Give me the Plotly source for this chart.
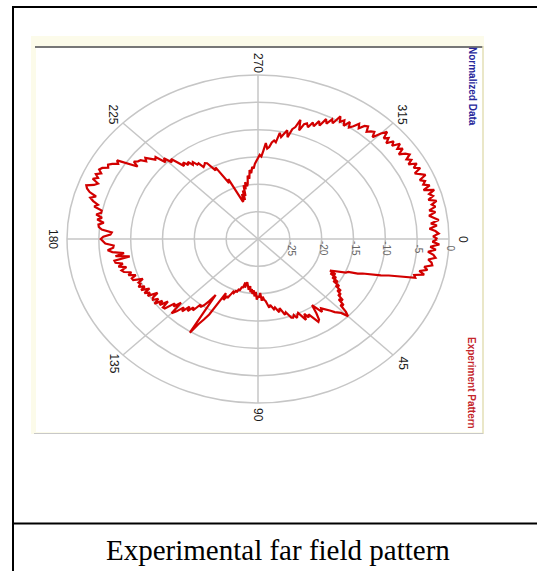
import numpy as np
import plotly.graph_objects as go

W, H = 537, 571

# ---- data -------------------------------------------------------------
# measured far-field gain, normalized (dB), sampled every degree 0..359
angle_deg = list(range(0, 360))
gain_db = [
    -1.8, -2.6, -1.5, -2.9, -2.0, -3.2, -2.3, -1.9, -3.0, -2.4,        # 0
    -2.2, -3.4, -2.8, -4.0, -3.1, -4.6, -4.3, -6.8, -8.4, -9.6,        # 10
    -11.2, -12.4, -13.1, -14.6, -14.9, -15.9, -16.6, -17.3, -16.2, -17.0,  # 20
    -15.8, -16.4, -15.2, -15.9, -14.6, -15.1, -13.9, -14.4, -13.5, -13.8,  # 30
    -12.6, -13.2, -11.9, -12.3, -10.8, -10.0, -11.2, -11.6, -12.0, -12.6,  # 40
    -13.1, -13.4, -13.9, -13.3, -14.4, -15.2, -13.6, -12.4, -12.1, -13.0,  # 50
    -14.1, -13.6, -14.5, -13.4, -14.2, -15.1, -14.8, -14.3, -15.0, -14.6,  # 60
    -14.7, -15.4, -15.9, -15.5, -16.5, -16.9, -16.2, -16.8, -17.2, -16.9,  # 70
    -17.4, -17.8, -17.3, -18.2, -18.6, -18.8, -19.4, -18.7, -20.1, -19.3,  # 80
    -19.6, -18.9, -20.3, -19.5, -20.6, -19.9, -20.8, -20.2, -21.3, -20.6,  # 90
    -21.2, -21.7, -21.9, -20.9, -21.8, -20.7, -20.9, -20.1, -20.4, -19.7,  # 100
    -20.0, -19.4, -19.6, -18.9, -18.2, -18.5, -17.6, -18.9, -16.4, -14.2,  # 110
    -13.0, -11.8, -9.8, -17.8, -16.3, -15.2, -14.6, -15.0, -13.4, -13.9,   # 120
    -12.8, -13.6, -12.2, -12.9, -11.6, -10.8, -13.2, -11.9, -12.4, -10.6,  # 130
    -10.5, -11.8, -10.4, -11.2, -9.9, -10.9, -10.1, -10.3, -11.4, -9.8,    # 140
    -10.4, -9.6, -10.7, -9.4, -10.2, -9.3, -9.8, -9.6, -10.5, -9.0,        # 150
    -8.9, -9.7, -8.6, -9.2, -8.1, -7.8, -8.7, -7.5, -8.3, -7.2,            # 160
    -7.1, -9.6, -7.4, -8.8, -7.0, -6.3, -7.2, -7.3, -6.0, -5.6,            # 170
    -5.3, -5.7, -6.8, -7.0, -5.4, -4.9, -4.8, -5.6, -4.5, -5.2,            # 180
    -4.2, -4.9, -4.9, -3.6, -4.1, -3.2, -2.6, -3.4, -2.2, -1.6,            # 190
    -1.3, -2.4, -2.9, -1.8, -2.5, -1.9, -2.6, -2.0, -2.3, -3.1,            # 200
    -2.8, -3.3, -4.1, -3.6, -5.2, -6.9, -5.9, -6.4, -6.6, -7.4,            # 210
    -6.9, -7.6, -8.3, -8.0, -9.8, -9.1, -10.5, -10.0, -11.3, -12.3,        # 220
    -11.7, -12.6, -12.1, -13.0, -12.6, -13.4, -13.3, -14.3, -14.1, -13.8,  # 230
    -14.0, -15.0, -15.8, -15.3, -16.6, -17.4, -18.8, -18.1, -19.8, -20.4,  # 240
    -21.6, -22.8, -22.5, -21.4, -22.6, -20.8, -21.9, -19.9, -20.7, -19.4,  # 250
    -20.2, -19.7, -18.3, -18.9, -17.3, -17.9, -16.8, -17.1, -16.2, -15.8,  # 260
    -15.2, -14.6, -14.9, -13.8, -12.4, -13.4, -13.1, -12.2, -11.8, -12.1,  # 270
    -10.3, -11.0, -10.4, -9.6, -10.8, -9.2, -8.7, -7.2, -9.1, -7.8,        # 280
    -7.5, -8.1, -7.0, -7.6, -6.4, -7.1, -5.6, -6.3, -5.2, -5.8,            # 290
    -4.1, -5.0, -4.4, -5.3, -4.2, -5.1, -4.5, -3.6, -4.3, -3.4,            # 300
    -3.1, -4.0, -3.5, -3.2, -4.1, -2.7, -1.8, -3.0, -2.4, -3.3,            # 310
    -2.2, -2.9, -1.7, -2.6, -1.9, -3.0, -2.1, -1.6, -2.5, -1.9,            # 320
    -2.7, -1.5, -2.3, -1.4, -2.6, -1.8, -1.2, -2.4, -1.7, -2.2,            # 330
    -1.3, -2.5, -0.9, -1.9, -1.4, -2.3, -1.1, -2.0, -1.5, -2.6,            # 340
    -1.7, -2.8, -2.0, -1.4, -2.7, -1.8, -3.0, -2.1, -1.6, -2.5,            # 350
]

ring_ticks = [-25, -20, -15, -10, -5, 0]
r_floor = -30
spoke_angles = [0, 45, 90, 135, 180, 225, 270, 315]
spoke_labels = ["0", "45", "90", "135", "180", "225", "270", "315"]

# ---- geometry of the panel (pixels) ----------------------------------
CX, CY = 258, 239          # pole of the pattern
SEMI_X, SEMI_Y = 191, 164  # outer ring half-width / half-height
SPAN = 0 - r_floor


def px(x):
    return x / W


def py(y):
    return 1 - y / H


def polar_xy(r_db, ang_deg):
    rho = np.asarray(r_db, float) - r_floor
    t = np.deg2rad(np.asarray(ang_deg, float))
    # 0 deg to the right, angle grows clockwise on screen
    return rho * np.cos(t), -rho * np.sin(t)


fig = go.Figure()

# pattern trace (closed loop)
gx, gy = polar_xy(gain_db + gain_db[:1], angle_deg + angle_deg[:1])
fig.add_trace(go.Scatter(
    x=gx, y=gy, mode="lines",
    line=dict(color="#D20000", width=2.2),
    hoverinfo="skip", showlegend=False,
))

shapes = []

# outer frame of the figure cell and caption divider
shapes += [
    dict(type="line", xref="paper", yref="paper",
         x0=px(13), x1=px(13), y0=py(6), y1=py(571),
         line=dict(color="black", width=2)),
    dict(type="line", xref="paper", yref="paper",
         x0=px(12), x1=px(537), y0=py(7), y1=py(7),
         line=dict(color="black", width=2)),
    dict(type="line", xref="paper", yref="paper",
         x0=px(13), x1=px(537), y0=py(523.5), y1=py(523.5),
         line=dict(color="black", width=2)),
]

# chart panel
shapes += [
    dict(type="rect", xref="paper", yref="paper", layer="below",
         x0=px(31), x1=px(484), y0=py(434), y1=py(36),
         fillcolor="#FCFBEA", line=dict(width=0)),
    dict(type="rect", xref="paper", yref="paper", layer="below",
         x0=px(36), x1=px(482), y0=py(432), y1=py(48),
         fillcolor="#FFFFFF", line=dict(width=0)),
    dict(type="line", xref="paper", yref="paper",
         x0=px(35), x1=px(483), y0=py(47), y1=py(47),
         line=dict(color="#777777", width=2)),
    dict(type="line", xref="paper", yref="paper",
         x0=px(483), x1=px(483), y0=py(46), y1=py(434),
         line=dict(color="#E4E0BC", width=1.5)),
    dict(type="line", xref="paper", yref="paper",
         x0=px(34), x1=px(483), y0=py(433.5), y1=py(433.5),
         line=dict(color="#C8C8C8", width=1)),
]

# grid rings
for t in ring_ticks:
    rho = t - r_floor
    shapes.append(dict(type="circle", xref="x", yref="y", layer="below",
                       x0=-rho, x1=rho, y0=-rho, y1=rho,
                       line=dict(color="#C6C6C6", width=1.5)))
# grid spokes
for a in spoke_angles:
    ex, ey = polar_xy(0, a)
    shapes.append(dict(type="line", xref="x", yref="y", layer="below",
                       x0=0, y0=0, x1=float(ex), y1=float(ey),
                       line=dict(color="#C6C6C6", width=1.5)))

annotations = []

# angle labels, rotated with the chart
for a, lab in zip(spoke_angles, spoke_labels):
    lx, ly = polar_xy(2.2, a)
    annotations.append(dict(
        x=float(lx), y=float(ly), xref="x", yref="y", text=lab,
        showarrow=False, textangle=90, xanchor="center", yanchor="middle",
        font=dict(family="Liberation Sans Narrow, Arial Narrow, Liberation Sans, Arial",
                  size=12, color="#1A1A1A"),
    ))

# ring labels along the 0 deg spoke
for t in ring_ticks:
    rho = t - r_floor
    annotations.append(dict(
        x=rho + 0.2, y=-1.8, xref="x", yref="y", text=str(t),
        showarrow=False, textangle=90, xanchor="center", yanchor="middle",
        font=dict(family="Liberation Sans, Arial", size=10, color="#666666"),
    ))

annotations += [
    dict(x=px(472), y=py(86), xref="paper", yref="paper",
         text="<b>Normalized Data</b>", showarrow=False, textangle=90,
         xanchor="center", yanchor="middle",
         font=dict(family="Liberation Sans Narrow, Arial Narrow, Liberation Sans, Arial",
                   size=10, color="#27279A")),
    dict(x=px(472), y=py(383), xref="paper", yref="paper",
         text="<b>Experiment Pattern</b>", showarrow=False, textangle=90,
         xanchor="center", yanchor="middle",
         font=dict(family="Liberation Sans Narrow, Arial Narrow, Liberation Sans, Arial",
                   size=10, color="#C4262B")),
    dict(x=px(278), y=py(550), xref="paper", yref="paper",
         text="Experimental far field pattern", showarrow=False,
         xanchor="center", yanchor="middle",
         font=dict(family="Liberation Serif, Times New Roman, serif",
                   size=29, color="#000000")),
]

x_range = [(0 - CX) * SPAN / SEMI_X, (W - CX) * SPAN / SEMI_X]
y_range = [(CY - H) * SPAN / SEMI_Y, (CY - 0) * SPAN / SEMI_Y]

fig.update_layout(
    width=W, height=H, autosize=False,
    margin=dict(l=0, r=0, t=0, b=0, pad=0),
    paper_bgcolor="white", plot_bgcolor="rgba(0,0,0,0)",
    xaxis=dict(range=x_range, visible=False, fixedrange=True, domain=[0, 1]),
    yaxis=dict(range=y_range, visible=False, fixedrange=True, domain=[0, 1]),
    shapes=shapes, annotations=annotations, showlegend=False,
)

fig.write_html("out.html", config={"displayModeBar": False})
